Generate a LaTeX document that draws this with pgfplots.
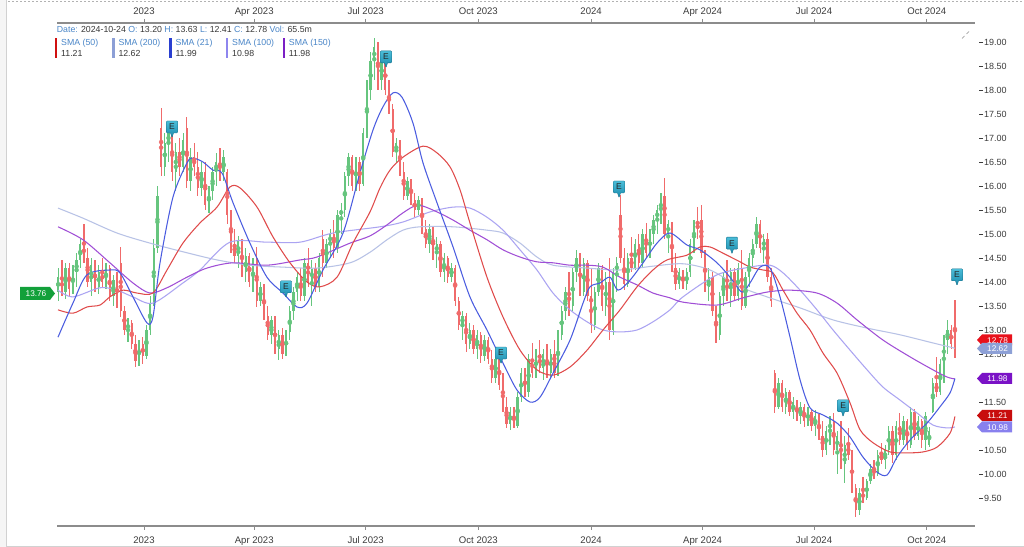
\documentclass[border=0pt]{standalone}
\usepackage{pgfplots}
\pgfplotsset{compat=1.18}
\usepackage{pgfplotstable}
\usepackage{fontspec}
\setmainfont{Liberation Sans}
\usetikzlibrary{shapes.callouts}
\definecolor{cgreen}{HTML}{66C57E}
\definecolor{cred}{HTML}{F06B6B}
\definecolor{s50}{HTML}{E04A4A}
\definecolor{s200}{HTML}{B8C2E6}
\definecolor{s21}{HTML}{4A5CE0}
\definecolor{s100}{HTML}{ABA4F2}
\definecolor{s150}{HTML}{A04ED6}
\definecolor{b50}{HTML}{D01010}
\definecolor{b200}{HTML}{8C9FD6}
\definecolor{b21}{HTML}{2A3FD0}
\definecolor{b100}{HTML}{8E86EE}
\definecolor{b150}{HTML}{7B1FC4}
\definecolor{hblue}{HTML}{4A86C8}
\definecolor{hval}{HTML}{383838}
\definecolor{axgray}{HTML}{8C8C8C}
\definecolor{tickgray}{HTML}{3C3C3C}
\definecolor{etop}{HTML}{4BBDD8}
\definecolor{ebot}{HTML}{1A89AB}
\definecolor{tgreen}{HTML}{12A03A}
\newcommand\xfont{\fontsize{9.6}{11}\selectfont}
\newcommand\yfont{\fontsize{9}{10}\selectfont}
\newcommand\hfont{\fontsize{8.8}{10}\selectfont}
\newcommand\tagfont{\fontsize{8.3}{9}\selectfont}
\tikzset{emark/.style={shape=rectangle callout, callout relative pointer={(0bp,-5bp)},
  callout pointer width=3bp, top color=etop, bottom color=ebot, draw=ebot!80!black,
  line width=0.3bp, minimum width=11.5bp, minimum height=12bp, inner sep=0pt,
  rounded corners=1bp, font=\fontsize{8.5}{9}\selectfont, text=black!85, anchor=center}}

\pgfplotstableread{
d o h l c
-70 13.8 14.3 13.6 14.1
-67 14.1 14.45 13.7 13.8
-64 13.8 14.4 13.65 14.3
-61 14.3 14.4 13.7 13.85
-58 13.85 14.35 13.75 14.2
-55 14.2 14.6 13.9 14.45
-52 14.45 14.9 14.3 14.8
-49 14.8 15.2 14.4 14.5
-46 14.5 14.7 13.9 14.0
-43 14.0 14.5 13.7 14.35
-40 14.35 14.45 13.8 13.9
-37 13.9 14.35 13.75 14.2
-34 14.2 14.5 13.9 14.0
-31 14.0 14.4 13.85 14.3
-28 14.3 14.35 13.6 13.7
-25 13.7 14.15 13.5 14.05
-22 14.05 14.2 13.45 13.6
-19 14.4 14.73 13.27 13.4
-16 13.4 13.5 12.9 13.0
-13 13.0 13.25 12.75 13.15
-10 13.15 13.2 12.6 12.7
-7 12.7 12.9 12.23 12.35
-4 12.35 12.8 12.25 12.7
-1 12.7 12.85 12.3 12.45
2 12.45 13.1 12.4 13.0
5 13.0 13.7 12.9 13.55
8 13.55 14.9 13.5 14.7
11 14.7 16.0 14.6 15.8
14 17.2 17.63 16.2 16.4
17 16.4 17.1 16.2 16.9
20 16.9 17.3 16.5 17.1
23 17.1 17.2 16.1 16.3
26 16.3 16.9 15.9 16.7
29 16.7 17.0 16.2 16.4
32 16.4 17.1 16.3 16.95
35 17.2 17.44 15.95 16.1
38 16.1 16.8 15.9 16.6
41 16.6 16.9 16.2 16.4
44 16.4 16.7 15.8 15.95
47 15.95 16.5 15.8 16.3
50 16.3 16.5 15.5 15.6
53 15.6 16.0 15.44 15.9
56 15.9 16.4 15.7 16.3
59 16.3 16.69 16.0 16.5
62 16.5 16.8 16.1 16.3
65 16.3 16.75 16.1 16.6
68 16.3 16.35 15.2 15.4
71 15.4 15.5 14.6 14.8
74 14.8 15.1 14.4 14.55
77 14.55 14.95 14.3 14.85
80 14.85 14.9 14.1 14.2
83 14.2 14.7 14.0 14.55
86 14.55 14.6 13.9 14.0
89 14.0 14.5 13.8 14.35
92 14.5 14.73 13.48 13.6
95 13.6 14.0 13.5 13.9
98 13.9 13.95 13.2 13.3
101 13.3 13.5 12.8 12.9
104 12.9 13.3 12.7 13.2
107 13.2 13.3 12.5 12.6
110 12.6 13.0 12.38 12.9
113 12.9 13.05 12.4 12.5
116 12.5 13.0 12.45 12.95
119 12.95 13.5 12.8 13.4
122 13.4 13.9 13.2 13.8
125 13.8 14.2 13.6 14.1
128 14.1 14.3 13.6 13.7
131 13.7 14.5 13.6 14.4
134 14.4 14.7 13.9 14.0
137 14.0 14.45 13.5 14.3
140 14.3 14.4 13.8 13.9
143 13.9 14.6 13.8 14.5
146 14.9 15.08 14.1 14.4
149 14.4 14.9 14.3 14.8
152 14.8 15.1 14.5 15.0
155 15.0 15.3 14.5 14.7
158 14.7 15.5 14.6 15.4
161 15.4 15.65 15.0 15.5
164 15.5 16.3 15.35 16.2
167 16.2 16.69 16.0 16.6
170 16.6 16.65 15.9 16.0
173 16.0 16.6 15.9 16.5
176 16.5 16.6 15.9 16.05
179 16.05 17.2 16.0 17.1
182 17.1 18.2 17.0 18.0
185 18.0 18.8 17.8 18.6
188 18.6 19.08 18.2 18.9
191 18.9 19.0 18.0 18.2
194 18.2 18.8 18.0 18.6
197 18.6 18.7 17.9 18.0
200 18.0 18.2 17.5 17.6
203 17.6 17.7 16.6 16.7
206 16.7 17.0 16.48 16.9
209 16.9 16.95 16.2 16.3
212 16.3 16.5 15.71 15.8
215 15.8 16.19 15.7 16.1
218 16.1 16.15 15.6 15.7
221 15.7 15.85 15.35 15.5
224 15.5 15.8 15.4 15.7
227 15.7 15.75 15.0 15.1
230 15.1 15.29 14.7 14.8
233 14.8 15.2 14.6 15.1
236 15.1 15.15 14.46 14.6
239 14.6 14.94 14.3 14.8
242 14.8 14.85 14.1 14.2
245 14.2 14.6 14.0 14.5
248 14.5 14.55 13.98 14.1
251 14.1 14.4 14.0 14.3
254 14.3 14.35 13.5 13.6
257 13.6 13.69 13.0 13.1
260 13.1 13.4 12.8 13.3
263 13.3 13.35 12.55 12.7
266 12.7 13.15 12.6 13.0
269 13.0 13.1 12.5 12.6
272 12.6 13.0 12.4 12.9
275 12.9 12.95 12.31 12.45
278 12.45 12.9 12.35 12.8
281 12.8 12.85 12.3 12.4
284 12.4 12.58 11.9 12.0
287 12.0 12.5 11.9 12.4
290 12.4 12.45 11.75 11.85
293 11.85 12.1 11.3 11.4
296 11.4 11.6 10.95 11.05
299 11.05 11.4 10.92 11.3
302 11.3 11.4 10.95 11.0
305 11.0 11.7 10.95 11.6
308 11.6 12.2 11.5 12.1
311 12.1 12.2 11.6 11.7
314 11.7 12.5 11.6 12.4
317 12.4 12.73 12.0 12.1
320 12.1 12.6 12.0 12.5
323 12.5 12.79 12.1 12.2
326 12.2 12.6 11.96 12.5
329 12.5 12.7 12.0 12.1
332 12.1 12.6 12.0 12.5
335 12.5 12.8 12.0 12.1
338 12.1 13.0 12.05 12.9
341 12.9 13.5 12.8 13.4
344 13.4 13.9 13.2 13.8
347 13.8 14.2 13.3 13.5
350 13.5 14.3 13.4 14.2
353 14.2 14.67 14.0 14.5
356 14.5 14.6 13.7 13.8
359 13.8 14.5 13.7 14.4
362 14.4 14.46 13.6 13.7
365 13.7 14.3 12.94 13.1
368 13.1 13.9 13.0 13.8
371 13.8 14.4 13.7 14.3
374 14.3 14.35 13.4 13.5
377 13.5 14.2 13.3 14.0
380 14.0 14.5 12.8 13.0
383 13.0 14.3 12.9 14.2
386 14.2 14.52 13.8 14.4
389 15.4 15.81 14.4 14.5
392 14.5 14.7 13.83 13.95
395 13.95 14.6 13.9 14.5
398 14.5 14.94 14.2 14.3
401 14.3 14.9 14.25 14.8
404 14.8 15.0 14.3 14.4
407 14.4 15.1 14.3 15.0
410 15.0 15.23 14.5 14.6
413 14.6 15.1 14.5 15.0
416 15.0 15.4 14.8 15.3
419 15.3 15.6 15.0 15.5
422 15.5 15.85 15.2 15.7
425 15.8 16.17 14.9 15.0
428 15.0 15.3 14.6 15.2
431 15.2 15.25 14.2 14.3
434 14.3 14.6 13.83 13.95
437 13.95 14.3 13.85 14.2
440 14.2 14.25 13.85 13.95
443 13.95 14.3 13.83 14.2
446 14.2 14.9 14.1 14.8
449 14.8 15.3 14.6 15.2
452 15.2 15.56 14.9 15.1
455 15.3 15.6 14.5 14.6
458 14.6 14.67 13.8 13.9
461 13.9 14.3 13.6 14.1
464 14.1 14.2 13.3 13.4
467 13.4 13.5 12.73 12.9
470 12.9 13.8 12.8 13.7
473 13.7 14.2 13.5 14.1
476 14.1 14.46 13.6 13.7
479 13.7 14.3 13.48 14.2
482 14.2 14.3 13.6 13.7
485 13.7 14.4 13.6 14.3
488 14.3 14.67 13.42 13.5
491 13.5 14.2 13.45 14.1
494 14.1 14.6 13.9 14.5
497 14.5 14.9 14.3 14.8
500 14.8 15.35 14.7 15.2
503 15.2 15.3 14.6 14.7
506 14.7 15.0 14.4 14.9
509 14.9 15.02 14.0 14.1
512 14.1 14.3 13.48 13.6
515 12.1 12.17 11.27 11.4
518 11.4 12.0 11.35 11.9
521 11.9 11.95 11.3 11.4
524 11.4 11.8 11.25 11.7
527 11.7 11.75 11.2 11.3
530 11.3 11.6 11.15 11.5
533 11.5 11.55 11.1 11.2
536 11.2 11.5 11.05 11.4
539 11.4 11.45 10.98 11.1
542 11.1 11.4 11.0 11.3
545 11.3 11.35 10.9 11.0
548 11.0 11.33 10.8 11.2
551 11.2 11.25 10.7 10.8
554 10.8 11.1 10.35 10.5
557 10.5 11.0 10.4 10.9
560 10.9 11.2 10.6 11.1
563 11.1 11.27 10.4 10.5
566 10.5 10.9 10.0 10.8
569 10.8 11.1 10.1 10.2
572 10.2 10.8 9.81 10.6
575 10.6 10.95 10.3 10.4
578 10.4 10.5 9.6 9.7
581 9.7 9.8 9.1 9.25
584 9.25 9.7 9.15 9.6
587 9.6 9.94 9.4 9.5
590 9.5 9.9 9.45 9.85
593 9.85 10.2 9.8 10.1
596 10.1 10.3 9.9 10.0
599 10.0 10.5 9.95 10.4
602 10.4 10.65 10.2 10.3
605 10.3 10.6 10.1 10.5
608 10.5 11.0 10.4 10.9
611 10.9 11.0 10.23 10.4
614 10.4 11.1 10.3 11.0
617 11.0 11.27 10.6 10.7
620 10.7 11.2 10.6 11.1
623 11.1 11.15 10.5 10.6
626 10.6 11.4 10.55 11.3
629 11.3 11.35 10.7 10.8
632 10.8 11.2 10.7 11.1
635 11.1 11.15 10.55 10.7
638 10.7 11.3 10.5 11.2
641 10.6 10.98 10.56 10.9
644 11.3 12.0 11.27 11.9
647 11.9 12.44 11.6 11.7
650 11.7 12.4 11.65 12.3
653 12.3 12.9 11.9 12.8
656 12.8 13.21 12.5 13.0
659 13.0 13.1 12.6 12.7
662 13.20 13.63 12.41 12.78
}\candles

\pgfplotstableread{
d v
-70.2 12.85
-58.0 13.56
-46.5 14.15
-27.8 14.25
-19.6 14.19
-9.0 13.69
2.4 13.15
7.3 13.27
13.1 14.40
23.7 15.77
35.1 16.48
40.0 16.58
48.2 16.50
56.3 16.33
63.7 16.27
72.7 15.65
86.5 14.81
100.4 14.10
113.5 13.77
124.9 13.48
133.1 13.56
146.1 14.25
162.5 15.02
176.3 16.27
187.0 17.17
195.1 17.65
203.3 17.94
210.6 17.85
219.6 17.31
227.8 16.48
239.2 15.65
252.3 14.73
266.1 13.69
280.0 13.00
293.1 12.31
304.5 11.75
315.1 11.50
323.3 11.60
333.9 12.10
347.8 12.79
358.4 13.56
364.1 13.90
372.3 13.98
380.4 14.10
387.0 13.83
396.8 14.04
407.4 14.40
418.8 14.81
429.4 15.02
443.3 14.77
453.9 14.67
467.8 14.40
478.4 14.10
488.2 13.79
494.7 13.98
502.9 14.31
511.1 14.29
519.2 13.69
527.4 12.85
535.6 11.96
543.7 11.38
554.3 11.23
565.8 11.06
576.4 10.77
587.0 10.35
598.4 10.04
606.6 9.98
614.7 10.35
625.4 10.71
639.2 11.06
649.8 11.40
658.0 11.69
662.0 11.99
}\smaA

\pgfplotstableread{
d v
-70.2 13.42
-58.0 13.35
-46.5 13.48
-35.9 13.52
-27.8 13.69
-17.1 13.83
-5.7 13.77
7.3 13.77
18.8 14.25
31.8 14.81
45.7 15.23
59.6 15.56
70.2 15.98
78.4 15.96
92.3 15.56
105.3 14.94
119.2 14.40
133.1 14.00
143.7 13.90
157.6 14.10
170.6 14.81
184.5 15.46
192.7 15.96
200.8 16.33
211.4 16.60
227.8 16.83
239.2 16.69
249.8 16.40
258.0 15.92
266.1 15.23
280.0 14.10
293.1 13.27
307.0 12.58
320.8 12.17
333.9 12.06
347.8 12.23
361.7 12.58
374.7 13.00
388.6 13.42
402.5 13.90
415.5 14.25
427.0 14.46
443.3 14.56
453.9 14.73
462.1 14.73
472.7 14.60
486.6 14.42
494.7 14.31
505.3 14.25
513.5 14.19
521.7 13.83
533.1 13.35
543.7 13.00
554.3 12.52
565.8 12.10
576.4 11.48
584.6 10.92
595.2 10.65
609.0 10.46
622.9 10.44
636.0 10.46
647.4 10.56
658.0 10.85
662.0 11.20
}\smaB

\pgfplotstableread{
d v
-70.2 13.83
-58.0 13.69
-35.9 13.88
-22.0 13.83
-9.0 13.69
7.3 13.56
31.8 13.98
45.7 14.25
70.2 14.83
100.4 14.83
127.4 14.83
154.3 15.02
192.7 15.15
211.4 15.25
233.5 15.46
252.3 15.56
266.1 15.54
280.0 15.35
293.1 15.08
307.0 14.67
320.8 14.25
333.9 13.77
347.8 13.42
361.7 13.17
374.7 13.00
388.6 12.96
402.5 13.00
415.5 13.17
429.4 13.42
440.0 13.69
467.8 14.15
494.7 14.31
511.1 14.35
521.7 14.19
535.6 13.83
549.4 13.42
562.5 13.00
576.4 12.58
590.3 12.17
603.3 11.81
617.2 11.54
631.1 11.27
644.1 11.02
655.6 10.96
662.0 10.98
}\smaC

\pgfplotstableread{
d v
-70.2 15.15
-49.8 14.88
-27.8 14.40
-9.0 13.98
4.9 13.77
18.8 13.88
35.1 14.10
51.4 14.29
72.7 14.40
100.4 14.35
127.4 14.46
141.2 14.52
168.2 14.81
184.5 14.96
198.4 15.19
211.4 15.44
223.7 15.60
239.2 15.46
252.3 15.29
266.1 15.08
280.0 14.88
293.1 14.67
307.0 14.52
320.8 14.42
333.9 14.40
347.8 14.35
361.7 14.35
374.7 14.31
388.6 14.10
402.5 13.94
415.5 13.77
429.4 13.67
440.0 13.58
467.8 13.52
489.0 13.67
508.6 13.79
527.4 13.83
549.4 13.77
565.8 13.56
582.1 13.21
603.3 12.79
625.4 12.44
644.1 12.17
655.6 12.02
662.0 11.98
}\smaD

\pgfplotstableread{
d v
-70.2 15.54
-49.8 15.33
-22.0 15.02
4.9 14.81
31.8 14.63
59.6 14.46
86.5 14.35
113.5 14.31
141.2 14.29
168.2 14.40
184.5 14.62
198.4 14.88
211.4 15.08
225.3 15.15
252.3 15.15
280.0 15.08
293.1 15.02
307.0 14.81
320.8 14.52
333.9 14.35
361.7 14.29
388.6 14.25
415.5 14.33
440.0 14.38
462.1 14.25
486.6 13.90
508.6 13.69
535.6 13.46
562.5 13.21
590.3 13.04
617.2 12.90
644.1 12.73
662.0 12.62
}\smaE

\begin{document}
\begin{tikzpicture}[x=1bp,y=1bp]
\useasboundingbox (0,0) rectangle (1024,547);
\fill[white] (0,0) rectangle (1024,547);

\begin{axis}[
  at={(57bp,21bp)}, anchor=south west, scale only axis, width=918bp, height=503bp,
  xmin=-71, xmax=678.4, ymin=8.917, ymax=19.396,
  axis x line*=bottom, axis y line*=right,
  x axis line style={axgray, line width=1.2bp},
  y axis line style={draw=none},
  xtick={0,90,181,273,365,456,547,639},
  xticklabels={2023,Apr 2023,Jul 2023,Oct 2023,2024,Apr 2024,Jul 2024,Oct 2024},
  ytick={9.5,10,...,19},
  tick align=outside, major tick length=4bp,
  xtick style={axgray, line width=0.8bp},
  ytick style={tickgray, line width=0.7bp, xshift=4bp},
  xticklabel style={font=\xfont, text=tickgray, anchor=base, inner sep=0pt, yshift=-13.5bp},
  yticklabel style={font=\yfont, text=tickgray, anchor=west, inner sep=0pt, xshift=5bp,
    /pgf/number format/.cd, fixed, fixed zerofill, precision=2},
  /pgf/number format/assume math mode=true,
]
% candles: wicks
\addplot[cgreen, only marks, mark=none, forget plot,
  restrict expr to domain={\thisrow{c}-\thisrow{o}}{0:100},
  error bars/.cd, y dir=both, y explicit, error mark=none,
  error bar style={line width=1.2bp, cgreen}]
  table[x=d, y expr={(\thisrow{h}+\thisrow{l})/2}, y error expr={(\thisrow{h}-\thisrow{l})/2}] {\candles};
\addplot[cred, only marks, mark=none, forget plot,
  restrict expr to domain={\thisrow{c}-\thisrow{o}}{-100:0},
  error bars/.cd, y dir=both, y explicit, error mark=none,
  error bar style={line width=1.2bp, cred}]
  table[x=d, y expr={(\thisrow{h}+\thisrow{l})/2}, y error expr={(\thisrow{h}-\thisrow{l})/2}] {\candles};
% candles: bodies
\addplot[cgreen, only marks, mark=none, forget plot,
  restrict expr to domain={\thisrow{c}-\thisrow{o}}{0:100},
  error bars/.cd, y dir=both, y explicit, error mark=none,
  error bar style={line width=2.3bp, cgreen}]
  table[x=d, y expr={(\thisrow{o}+\thisrow{c})/2}, y error expr={abs(\thisrow{c}-\thisrow{o})/2}] {\candles};
\addplot[cred, only marks, mark=none, forget plot,
  restrict expr to domain={\thisrow{c}-\thisrow{o}}{-100:0},
  error bars/.cd, y dir=both, y explicit, error mark=none,
  error bar style={line width=2.3bp, cred}]
  table[x=d, y expr={(\thisrow{o}+\thisrow{c})/2}, y error expr={abs(\thisrow{c}-\thisrow{o})/2}] {\candles};
% moving averages
\addplot[s200, line width=1.05bp, smooth, mark=none] table[x=d, y=v] {\smaE};
\addplot[s100, line width=1.05bp, smooth, mark=none] table[x=d, y=v] {\smaC};
\addplot[s150, line width=1.05bp, smooth, mark=none] table[x=d, y=v] {\smaD};
\addplot[s50, line width=1.05bp, smooth, mark=none] table[x=d, y=v] {\smaB};
\addplot[s21, line width=1.05bp, smooth, mark=none] table[x=d, y=v] {\smaA};
% earnings markers
\addplot[only marks, mark=none, nodes near coords={E},
  every node near coord/.append style={emark}]
  coordinates {(22.9,17.23) (197.6,18.69) (115.9,13.90) (291.5,12.52)
               (387.8,15.98) (480.0,14.81) (570.7,11.42) (663.7,14.15)};
\end{axis}

\begin{axis}[
  at={(57bp,21bp)}, anchor=south west, scale only axis, width=918bp, height=503bp,
  xmin=-71, xmax=678.4, ymin=8.917, ymax=19.396,
  axis x line*=top, hide y axis,
  x axis line style={axgray, line width=1.2bp},
  xtick={0,90,181,273,365,456,547,639},
  xticklabels={2023,Apr 2023,Jul 2023,Oct 2023,2024,Apr 2024,Jul 2024,Oct 2024},
  tick align=outside, major tick length=4bp,
  xtick style={axgray, line width=0.8bp},
  xticklabel style={font=\xfont, text=tickgray, anchor=base, inner sep=0pt, yshift=4bp},
]
\addplot[draw=none, forget plot] coordinates {(0,10)};
\end{axis}

\begin{scope}[yshift=547bp, y=-1bp]
  % frame of the application window
  \fill[black!4] (0,0) rectangle (6.5,547);
  \draw[black!18, line width=0.8bp] (6.8,0) -- (6.8,547);
  \draw[black!18, line width=0.8bp] (6.8,546.3) -- (1024,546.3);
  \draw[black!30, line width=0.6bp, dash pattern=on 2bp off 2bp] (8,1.5) -- (1024,1.5);
  \draw[black!45, line width=0.5bp] (962,38.5) -- (964.5,36) (966.5,34) -- (969,31.5);
  % header
  \node[anchor=base west, inner sep=0pt, font=\hfont] at (56.7,32.5)
    {\color{hblue}Date: \color{hval}2024-10-24 \color{hblue}O: \color{hval}13.20
     \color{hblue}H: \color{hval}13.63 \color{hblue}L: \color{hval}12.41
     \color{hblue}C: \color{hval}12.78 \color{hblue}Vol: \color{hval}65.5m};
  % legend
  \foreach \bx/\col/\lab/\val in {55/b50/{SMA (50)}/11.21, 112.3/b200/{SMA (200)}/12.62,
      169.3/b21/{SMA (21)}/11.99, 226/b100/{SMA (100)}/10.98, 282.7/b150/{SMA (150)}/11.98}{
    \fill[\col] (\bx,38) rectangle (\bx+2.3,58);
    \node[anchor=base west, inner sep=0pt, font=\hfont, text=hblue] at (\bx+6,46) {\lab};
    \node[anchor=base west, inner sep=0pt, font=\hfont, text=hval] at (\bx+6,56.8) {\val};
  }
  % left price tag
  \fill[tgreen] (20,287) -- (50,287) -- (55,293.5) -- (50,300) -- (20,300) -- cycle;
  \node[font=\tagfont, text=white, inner sep=0pt] at (36,293.7) {13.76};
  % right value tags
  \foreach \ty/\col/\val in {340/E8111B/12.78, 348.5/8DA0D6/12.62, 378.5/7A12C6/11.98,
      415.5/C80D0D/11.21, 427/8880EE/10.98}{
    \definecolor{tagc}{HTML}{\col}
    \fill[tagc] (977,\ty) -- (982,\ty-5.5) -- (1012,\ty-5.5) -- (1012,\ty+5.5) -- (982,\ty+5.5) -- cycle;
    \node[font=\tagfont, text=white, inner sep=0pt] at (997.5,\ty+0.3) {\val};
  }
\end{scope}
\end{tikzpicture}
\end{document}
